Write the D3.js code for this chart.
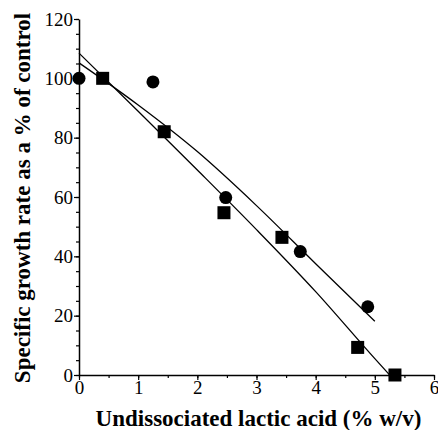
<!DOCTYPE html>
<html>
<head>
<meta charset="utf-8">
<script src="https://cdn.jsdelivr.net/npm/d3@7"></script>
<style>
  body { margin: 0; background: #fff; }
</style>
</head>
<body>
<div id="chart"></div>
<script>
// data
const circleX = [0, 1.25, 2.48, 3.74, 4.88];
const circleY = [100, 98.8, 59.8, 41.6, 23];
const squareX = [0.4, 1.44, 2.45, 3.43, 4.71, 5.34];
const squareY = [100, 82, 54.7, 46.4, 9.3, 0];

// fitted curves (traced)
const fitAX = [0, 1, 2, 3, 4, 5];
const fitAY = [105.2, 91, 75.3, 57.1, 37.5, 18.1];
const fitBX = [0, 1, 2, 3, 4, 5, 5.25];
const fitBY = [108.5, 88.9, 69.1, 49, 28.1, 5.5, 0];

const xTicks = [0, 1, 2, 3, 4, 5, 6];
const yTicks = [0, 20, 40, 60, 80, 100, 120];

const serif = '"Liberation Serif"';
const width = 438, height = 430;
const margin = {top: 19, right: 4, bottom: 55, left: 79};

const svg = d3.select("#chart").append("svg")
    .attr("width", width)
    .attr("height", height);

const x = d3.scaleLinear().domain([0, 6]).range([margin.left, width - margin.right]);
const y = d3.scaleLinear().domain([0, 120]).range([height - margin.bottom, margin.top]);

// minor ticks first
svg.append("g")
    .attr("transform", `translate(0,${y(0)})`)
    .call(d3.axisBottom(x).tickValues(d3.range(0, 6.01, 0.5)).tickSize(3).tickFormat(""))
    .call(g => g.select(".domain").remove())
    .selectAll("line").attr("stroke-width", 1.2);

svg.append("g")
    .attr("transform", `translate(${x(0)},0)`)
    .call(d3.axisLeft(y).tickValues(d3.range(0, 121, 5)).tickSize(3).tickFormat(""))
    .call(g => g.select(".domain").remove())
    .selectAll("line").attr("stroke-width", 1.2);

// major axes
const xAxis = svg.append("g")
    .attr("transform", `translate(0,${y(0)})`)
    .call(d3.axisBottom(x).tickValues(xTicks).tickFormat(d3.format("d"))
        .tickSize(5).tickSizeOuter(0).tickPadding(1));
xAxis.select(".domain").attr("stroke-width", 1.5);
xAxis.selectAll(".tick line").attr("stroke-width", 1.2);

const yAxis = svg.append("g")
    .attr("transform", `translate(${x(0)},0)`)
    .call(d3.axisLeft(y).tickValues(yTicks).tickFormat(d3.format("d"))
        .tickSize(5).tickSizeOuter(0).tickPadding(1));
yAxis.select(".domain").attr("stroke-width", 1.5);
yAxis.selectAll(".tick line").attr("stroke-width", 1.2);

svg.selectAll(".tick text")
    .style("font-family", serif)
    .style("font-size", "19px")
    .attr("fill", "#000");

// fitted curves
const line = d3.line().x(d => x(d[0])).y(d => y(d[1])).curve(d3.curveMonotoneX);
svg.append("path")
    .datum(d3.zip(fitAX, fitAY))
    .attr("d", line)
    .attr("fill", "none").attr("stroke", "#000").attr("stroke-width", 1.3);
svg.append("path")
    .datum(d3.zip(fitBX, fitBY))
    .attr("d", line)
    .attr("fill", "none").attr("stroke", "#000").attr("stroke-width", 1.3);

// markers
svg.selectAll("circle.pt")
    .data(d3.zip(circleX, circleY))
    .join("circle")
    .attr("class", "pt")
    .attr("cx", d => x(d[0]))
    .attr("cy", d => y(d[1]))
    .attr("r", 6.5)
    .attr("fill", "#000");

const s = 13;
svg.selectAll("rect.pt")
    .data(d3.zip(squareX, squareY))
    .join("rect")
    .attr("class", "pt")
    .attr("x", d => x(d[0]) - s / 2)
    .attr("y", d => y(d[1]) - s / 2)
    .attr("width", s)
    .attr("height", s)
    .attr("fill", "#000");

// titles
svg.append("text")
    .style("font-family", serif).style("font-size", "23px").style("font-weight", "bold")
    .attr("x", 258.5)
    .attr("y", 426)
    .attr("text-anchor", "middle")
    .text("Undissociated lactic acid (% w/v)");

svg.append("text")
    .style("font-family", serif).style("font-size", "23px").style("font-weight", "bold")
    .attr("transform", "translate(30,198) rotate(-90)")
    .attr("text-anchor", "middle")
    .text("Specific growth rate as a % of control");
</script>
</body>
</html>
